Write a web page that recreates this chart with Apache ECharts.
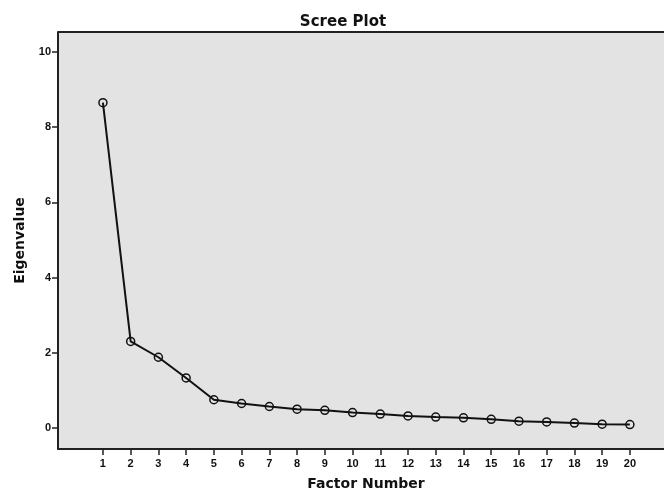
<!DOCTYPE html>
<html>
<head>
    <meta charset="utf-8">
    <title>Scree Plot</title>
    <script src="https://cdn.jsdelivr.net/npm/echarts@6/dist/echarts.min.js"></script>
    <style>
        html, body { margin: 0; padding: 0; background: #fff; }
    </style>
</head>
<body>
    <div id="main" style="width: 664px; height: 495px;"></div>
    <script type="text/javascript">
        // factor numbers and eigenvalues
        var factors = [1, 2, 3, 4, 5, 6, 7, 8, 9, 10, 11, 12, 13, 14, 15, 16, 17, 18, 19, 20];
        var eigenvalues = [8.65, 2.30, 1.88, 1.33, 0.75, 0.65, 0.57, 0.50, 0.47, 0.41,
                           0.37, 0.32, 0.29, 0.27, 0.23, 0.18, 0.16, 0.13, 0.10, 0.09];
        var yTicks = [0, 2, 4, 6, 8, 10];

        var myChart = echarts.init(document.getElementById('main'));

        var points = factors.map(function (f, i) { return [f, eigenvalues[i]]; });

        var labelFont = {
            color: '#111',
            fontFamily: 'Liberation Sans',
            fontWeight: 'bold',
            fontSize: 11
        };
        var nameFont = {
            color: '#111',
            fontFamily: 'DejaVu Sans',
            fontWeight: 'bold',
            fontSize: 14
        };

        option = {
            backgroundColor: '#fff',
            animation: false,
            title: {
                text: 'Scree Plot',
                left: 338,
                top: 10,
                textAlign: 'center',
                textStyle: Object.assign({}, nameFont, { fontSize: 15 })
            },
            grid: {
                left: 58,
                top: 32,
                right: 0,
                bottom: 46,
                outerBoundsMode: 'none',
                containLabel: false,
                show: true,
                backgroundColor: '#e3e3e3',
                borderColor: '#222',
                borderWidth: 0
            },
            xAxis: {
                type: 'value',
                min: -0.62,
                max: 21.23,
                name: 'Factor Number',
                nameLocation: 'middle',
                nameGap: 28,
                nameTextStyle: Object.assign({ padding: [0, 0, 0, 10] }, nameFont),
                splitLine: { show: false },
                axisLine: { onZero: false, lineStyle: { color: '#222', width: 2 } },
                axisTick: {
                    show: true,
                    customValues: factors,
                    length: 6,
                    lineStyle: { color: '#222', width: 1.5 }
                },
                axisLabel: Object.assign({ customValues: factors, margin: 9 }, labelFont)
            },
            yAxis: {
                type: 'value',
                min: -0.56,
                max: 10.53,
                name: 'Eigenvalue',
                nameLocation: 'middle',
                nameGap: 31,
                nameTextStyle: nameFont,
                splitLine: { show: false },
                axisLine: { onZero: false, lineStyle: { color: '#222', width: 2 } },
                axisTick: {
                    show: true,
                    customValues: yTicks,
                    length: 6,
                    lineStyle: { color: '#222', width: 1.5 }
                },
                axisLabel: Object.assign({ customValues: yTicks, margin: 7 }, labelFont)
            },
            series: [
                {
                    type: 'line',
                    data: points,
                    symbol: 'circle',
                    symbolSize: 8,
                    lineStyle: { color: '#111', width: 2 },
                    itemStyle: {
                        color: 'rgba(0,0,0,0)',
                        borderColor: '#111',
                        borderWidth: 1.5
                    }
                }
            ],
            graphic: [
                {
                    type: 'line',
                    shape: { x1: 58, y1: 32, x2: 664, y2: 32 },
                    style: { stroke: '#222', lineWidth: 2 }
                }
            ]
        };

        myChart.setOption(option);
    </script>
</body>
</html>
